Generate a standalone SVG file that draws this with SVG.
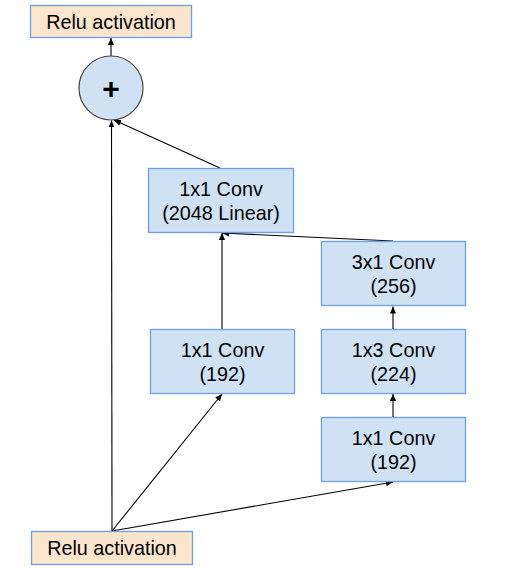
<svg xmlns="http://www.w3.org/2000/svg" width="510" height="574" viewBox="0 0 510 574">
<defs>
<marker id="ah" viewBox="0 0 8 8" refX="8" refY="4" markerWidth="7" markerHeight="7" markerUnits="userSpaceOnUse" orient="auto">
<path d="M0,0.5 L8,4 L0,7.5 Z" fill="#000"/>
</marker>
<style>
.conv{fill:#cfe2f3;stroke:#6d9eeb;stroke-width:1.3}
.relu{fill:#fce5cd;stroke:#6d9eeb;stroke-width:1.3}
.add{fill:#cfe2f3;stroke:#434343;stroke-width:1.2}
.t{font-family:"Liberation Sans",Arial,sans-serif;font-size:19.8px;fill:#000;text-anchor:middle}
.plus{font-family:"Liberation Sans",Arial,sans-serif;font-size:30px;font-weight:bold;fill:#000;text-anchor:middle}
.c{fill:none;stroke:#000;stroke-width:1.1;marker-end:url(#ah)}
</style>
</defs>
<rect width="510" height="574" fill="#fff"/>
<g id="connectors">
<line class="c" x1="111" y1="56" x2="111" y2="38"/>
<line class="c" x1="112" y1="531" x2="111.5" y2="120.5"/>
<line class="c" x1="220" y1="168" x2="114" y2="120"/>
<line class="c" x1="112" y1="531" x2="222" y2="394"/>
<line class="c" x1="112" y1="531" x2="393" y2="482"/>
<line class="c" x1="393" y1="417" x2="393" y2="394"/>
<line class="c" x1="393" y1="329" x2="393" y2="306.5"/>
<line class="c" x1="393" y1="241" x2="222" y2="233"/>
<line class="c" x1="222" y1="329" x2="222" y2="233"/>
</g>
<g id="relu_top">
<rect class="relu" x="30.5" y="5.5" width="161" height="32"/>
<text class="t" x="111" y="29">Relu activation</text>
</g>
<g id="add">
<circle class="add" cx="111" cy="88" r="32"/>
<text class="plus" x="111" y="98.5">+</text>
</g>
<g id="conv_2048">
<rect class="conv" x="148.5" y="168.5" width="145" height="64"/>
<text class="t" x="221" y="196">1x1 Conv</text>
<text class="t" x="221" y="220">(2048 Linear)</text>
</g>
<g id="conv_3x1">
<rect class="conv" x="321.5" y="241.5" width="144" height="64"/>
<text class="t" x="393.5" y="269">3x1 Conv</text>
<text class="t" x="393.5" y="293">(256)</text>
</g>
<g id="conv_1x1_left">
<rect class="conv" x="150.5" y="329.5" width="144" height="64"/>
<text class="t" x="222.5" y="357">1x1 Conv</text>
<text class="t" x="222.5" y="381">(192)</text>
</g>
<g id="conv_1x3">
<rect class="conv" x="321.5" y="329.5" width="144" height="64"/>
<text class="t" x="393.5" y="357">1x3 Conv</text>
<text class="t" x="393.5" y="381">(224)</text>
</g>
<g id="conv_1x1_right">
<rect class="conv" x="321.5" y="417.5" width="144" height="64"/>
<text class="t" x="393.5" y="445">1x1 Conv</text>
<text class="t" x="393.5" y="469">(192)</text>
</g>
<g id="relu_bottom">
<rect class="relu" x="31.5" y="531.5" width="161" height="33"/>
<text class="t" x="112" y="555">Relu activation</text>
</g>
</svg>
